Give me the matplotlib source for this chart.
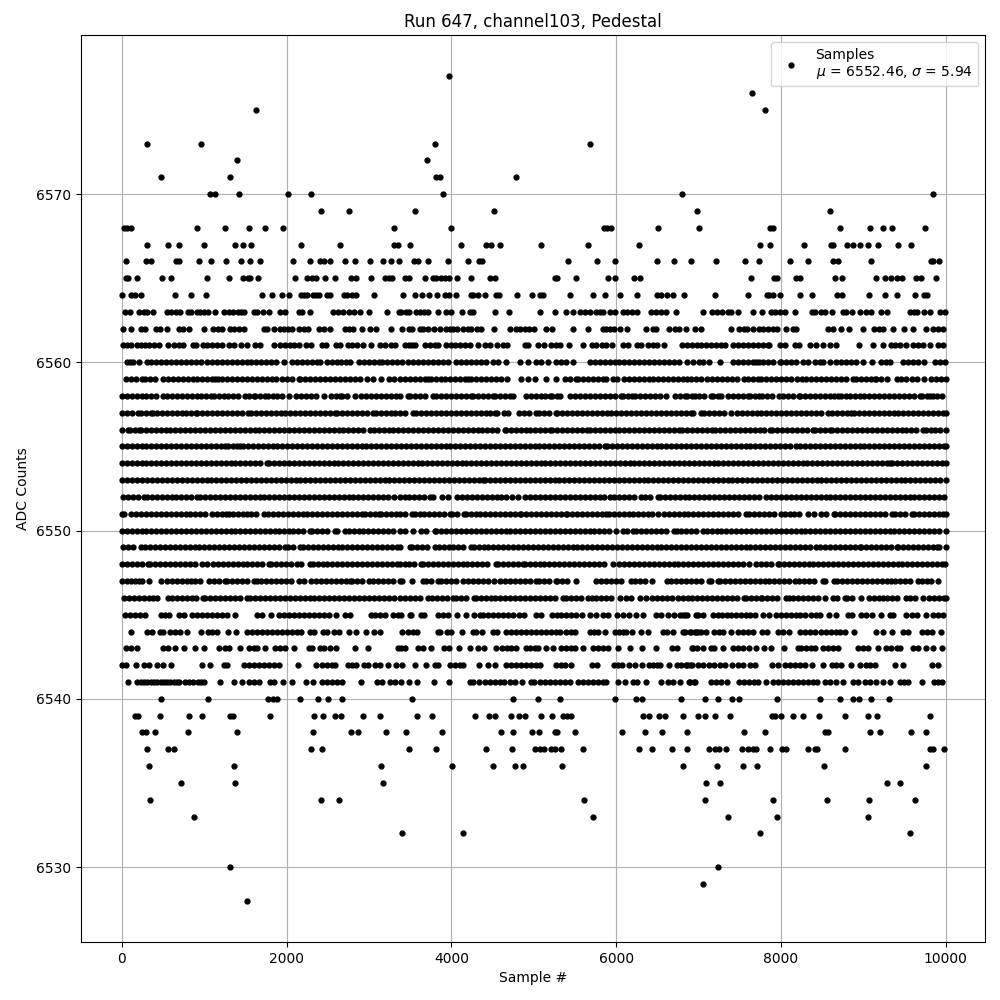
import matplotlib
matplotlib.use("Agg")
import matplotlib.pyplot as plt

s6577 = [3972]
s6576 = [7647]
s6575 = [1624, 7805]
s6573 = [312, 956, 3802, 5685]
s6572 = [1393, 3704]
s6571 = [482, 1308, 3814, 3862, 4786]
s6570 = [1065, 1130, 1417, 2013, 2292, 3899, 6803, 9850]
s6569 = [2414, 2754, 3559, 4518, 6985, 8596]
s6568 = [28, 69, 117, 919, 1247, 1539, 1733, 1952, 3300, 3996, 5855, 5891, 5940, 6511, 7001, 7866, 7903, 8718, 9083, 9241, 9351, 9753]
s6567 = [312, 555, 689, 992, 1369, 1466, 1563, 2171, 2645, 3309, 3349, 3498, 4117, 4421, 4482, 4591, 5089, 5660, 6280, 7744, 7866, 8280, 8608, 8630, 8803, 8876, 8961, 9059, 9180, 9424, 9582]
s6566 = [57, 288, 352, 664, 700, 932, 1077, 1260, 1442, 1551, 1673, 2074, 2280, 2410, 2458, 2523, 2705, 2827, 3009, 3167, 3264, 3361, 3546, 3595, 3717, 3960, 4202, 4336, 4373, 5418, 5770, 5989, 6499, 6705, 6912, 7209, 7562, 7732, 8110, 8329, 8633, 8694, 9095, 9826, 9850, 9923]
s6565 = [57, 77, 190, 494, 603, 1029, 1296, 1466, 1527, 1559, 1648, 2098, 2244, 2304, 2357, 2462, 2584, 2778, 2843, 3021, 3200, 3240, 3280, 3437, 3486, 3680, 3777, 3818, 3874, 3923, 3972, 4069, 4239, 4466, 4535, 5260, 5284, 5515, 5904, 5989, 6220, 6296, 7635, 7915, 7951, 8183, 8231, 8657, 8742, 9156, 9266, 9339, 9412, 9473, 9643, 9696, 9886]
s6564 = [8, 117, 166, 239, 640, 846, 1017, 1697, 1818, 1940, 2025, 2171, 2207, 2248, 2317, 2353, 2389, 2487, 2523, 2693, 2730, 2790, 2843, 3058, 3413, 3559, 3644, 3729, 3826, 3923, 3972, 4061, 4239, 4263, 4324, 4409, 4547, 4580, 4798, 4980, 5077, 5114, 5442, 5721, 5867, 6049, 6256, 6495, 6548, 6612, 6693, 6827, 7197, 7598, 7830, 7862, 7903, 7988, 8231, 8377, 8682, 8742, 9071, 9266, 9412, 9631, 9740, 9777]
s6563 = [44, 101, 215, 275, 304, 385, 543, 603, 664, 709, 798, 838, 907, 952, 992, 1041, 1126, 1235, 1296, 1345, 1405, 1446, 1478, 1600, 1640, 1709, 1782, 1916, 1976, 2147, 2187, 2280, 2560, 2620, 2681, 2754, 2815, 2888, 3000, 3220, 3370, 3393, 3445, 3486, 3567, 3615, 3664, 3717, 3838, 3939, 4000, 4130, 4231, 4263, 4535, 4701, 5077, 5260, 5393, 5478, 5563, 5620, 5681, 5762, 5802, 5843, 5928, 5985, 6085, 6134, 6195, 6256, 6426, 6479, 6544, 6609, 6727, 7051, 7160, 7221, 7282, 7355, 7395, 7477, 7659, 7769, 7878, 7923, 7984, 8045, 8170, 8377, 8410, 8487, 8531, 8621, 8755, 8795, 8864, 8961, 9030, 9099, 9217, 9290, 9570, 9619, 9655, 9740, 9809, 9935, 9992]
s6562 = [12, 117, 239, 283, 421, 466, 543, 700, 749, 822, 1004, 1102, 1162, 1215, 1308, 1357, 1417, 1478, 1721, 1762, 1843, 1916, 1964, 2013, 2061, 2147, 2207, 2256, 2390, 2450, 2531, 2714, 2754, 2802, 2920, 3009, 3082, 3264, 3401, 3486, 3526, 3615, 3656, 3717, 3790, 3862, 3931, 3980, 4020, 4069, 4142, 4202, 4243, 4312, 4356, 4518, 4713, 4786, 4838, 4891, 4944, 5000, 5150, 5223, 5478, 5660, 5843, 5883, 5924, 5972, 6049, 6134, 6365, 6446, 6487, 6641, 6714, 6762, 6851, 6957, 7030, 7391, 7497, 7558, 7590, 7659, 7740, 7781, 7842, 7903, 7951, 8057, 8146, 8187, 8572, 8633, 8734, 8827, 8998, 9128, 9189, 9241, 9363, 9493, 9607, 9765, 9850, 9911, 9972]
s6561 = [20, 61, 109, 190, 239, 283, 328, 397, 450, 567, 628, 689, 749, 859, 903, 980, 1033, 1094, 1154, 1215, 1296, 1357, 1442, 1519, 1612, 1681, 1843, 1924, 1984, 2037, 2094, 2155, 2232, 2292, 2426, 2483, 2596, 2653, 2742, 2798, 2855, 2924, 3021, 3131, 3191, 3264, 3321, 3441, 3482, 3522, 3563, 3676, 3737, 3798, 3838, 3939, 4000, 4040, 4101, 4162, 4223, 4324, 4405, 4466, 4555, 4628, 4676, 4891, 4931, 5053, 5122, 5211, 5276, 5316, 5430, 5600, 5713, 5762, 5823, 5883, 5956, 6085, 6146, 6256, 6308, 6389, 6450, 6499, 6584, 6795, 6855, 6916, 6977, 7030, 7091, 7152, 7213, 7270, 7319, 7416, 7477, 7537, 7598, 7659, 7720, 7781, 7842, 7862, 7984, 8045, 8166, 8219, 8357, 8422, 8511, 8600, 8674, 8949, 9120, 9241, 9331, 9384, 9444, 9525, 9606, 9667, 9728, 9809, 9911, 9972]
s6560 = [61, 105, 142, 211, 304, 360, 420, 480, 540, 600, 660, 720, 780, 840, 900, 960, 1033, 1094, 1154, 1214, 1274, 1334, 1394, 1454, 1514, 1574, 1634, 1694, 1754, 1814, 1874, 1964, 2066, 2126, 2186, 2246, 2306, 2366, 2410, 2491, 2552, 2612, 2661, 2720, 2774, 2876, 2936, 2996, 3056, 3118, 3159, 3219, 3279, 3339, 3405, 3474, 3534, 3594, 3654, 3714, 3774, 3834, 3899, 3960, 4061, 4121, 4181, 4241, 4301, 4361, 4421, 4506, 4567, 4668, 4830, 4931, 5033, 5093, 5174, 5276, 5336, 5396, 5478, 5681, 5741, 5801, 5861, 5921, 5981, 6041, 6101, 6161, 6221, 6281, 6341, 6401, 6461, 6521, 6581, 6641, 6701, 6761, 6856, 6929, 7010, 7051, 7124, 7262, 7416, 7476, 7536, 7598, 7659, 7700, 7740, 7781, 7841, 7901, 7984, 8004, 8064, 8124, 8184, 8268, 8329, 8410, 8470, 8511, 8592, 8674, 8734, 8794, 8854, 8917, 8998, 9107, 9221, 9281, 9322, 9485, 9545, 9605, 9667, 9740, 9870, 9930, 9992]
s6559 = [53, 113, 173, 243, 283, 343, 403, 498, 559, 619, 679, 739, 799, 859, 919, 979, 1039, 1099, 1134, 1162, 1222, 1282, 1342, 1402, 1462, 1522, 1582, 1642, 1702, 1762, 1822, 1871, 1944, 2004, 2064, 2147, 2167, 2227, 2287, 2347, 2407, 2467, 2527, 2587, 2647, 2707, 2767, 2827, 2887, 2977, 3046, 3147, 3240, 3300, 3380, 3440, 3500, 3560, 3620, 3680, 3717, 3749, 3809, 3869, 3929, 3989, 4049, 4109, 4169, 4202, 4243, 4303, 4363, 4423, 4483, 4543, 4603, 4676, 4842, 4931, 5012, 5154, 5276, 5385, 5445, 5519, 5539, 5599, 5659, 5719, 5779, 5843, 5883, 5964, 6013, 6094, 6154, 6214, 6274, 6334, 6394, 6454, 6514, 6574, 6634, 6694, 6754, 6815, 6855, 6915, 6975, 7035, 7103, 7160, 7225, 7285, 7345, 7405, 7465, 7558, 7598, 7659, 7720, 7760, 7820, 7880, 7940, 8000, 8065, 8126, 8195, 8256, 8308, 8368, 8428, 8488, 8548, 8608, 8668, 8728, 8788, 8876, 8916, 8976, 9036, 9096, 9140, 9160, 9220, 9290, 9404, 9464, 9524, 9595, 9647, 9740, 9818, 9878, 9938, 10000]
s6558 = [0, 60, 120, 180, 240, 300, 360, 420, 506, 547, 607, 667, 727, 787, 847, 907, 967, 1027, 1087, 1122, 1175, 1235, 1295, 1355, 1415, 1498, 1539, 1600, 1620, 1680, 1741, 1770, 1830, 1890, 1950, 2029, 2114, 2174, 2234, 2294, 2354, 2458, 2539, 2600, 2645, 2673, 2733, 2835, 2908, 2968, 3028, 3088, 3148, 3208, 3268, 3328, 3380, 3474, 3502, 3562, 3622, 3682, 3777, 3818, 3878, 3938, 3998, 4058, 4118, 4178, 4243, 4263, 4323, 4383, 4443, 4506, 4535, 4595, 4655, 4709, 4749, 4903, 4963, 5023, 5083, 5143, 5195, 5223, 5283, 5324, 5446, 5506, 5566, 5626, 5686, 5746, 5806, 5866, 5926, 5986, 6065, 6085, 6145, 6199, 6235, 6295, 6355, 6415, 6475, 6535, 6604, 6713, 6773, 6835, 6863, 6923, 6957, 7010, 7070, 7152, 7173, 7233, 7274, 7355, 7415, 7475, 7535, 7598, 7631, 7691, 7740, 7769, 7829, 7889, 7975, 8024, 8084, 8144, 8215, 8235, 8295, 8355, 8415, 8470, 8531, 8591, 8651, 8694, 8734, 8787, 8835, 8895, 8955, 9015, 9075, 9135, 9195, 9255, 9315, 9375, 9435, 9495, 9555, 9615, 9688, 9708, 9768, 9809, 9850, 9900, 9951]
s6557 = [0, 60, 120, 194, 231, 291, 351, 385, 425, 485, 545, 605, 665, 725, 785, 845, 903, 919, 979, 1039, 1099, 1159, 1219, 1279, 1339, 1399, 1459, 1531, 1567, 1627, 1687, 1747, 1807, 1867, 1927, 1987, 2047, 2107, 2167, 2227, 2287, 2347, 2407, 2467, 2527, 2592, 2612, 2672, 2732, 2792, 2852, 2912, 2972, 3050, 3082, 3142, 3202, 3262, 3322, 3380, 3440, 3534, 3575, 3635, 3695, 3755, 3815, 3875, 3935, 3995, 4055, 4115, 4175, 4235, 4295, 4355, 4415, 4475, 4527, 4555, 4636, 4689, 4822, 4882, 4942, 5033, 5065, 5125, 5185, 5268, 5284, 5344, 5404, 5464, 5524, 5584, 5644, 5704, 5764, 5824, 5884, 5944, 6004, 6064, 6124, 6184, 6244, 6304, 6364, 6424, 6484, 6544, 6604, 6664, 6724, 6784, 6844, 6909, 6937, 7030, 7071, 7131, 7191, 7251, 7311, 7395, 7465, 7525, 7585, 7645, 7705, 7765, 7825, 7885, 7945, 8005, 8065, 8125, 8185, 8245, 8305, 8365, 8425, 8485, 8572, 8625, 8685, 8745, 8805, 8856, 8888, 8948, 9008, 9068, 9128, 9188, 9248, 9308, 9368, 9428, 9488, 9548, 9608, 9668, 9728, 9788, 9848, 9908, 9968, 10000]
s6556 = [0, 81, 101, 161, 203, 231, 291, 351, 411, 471, 531, 591, 651, 711, 771, 831, 891, 951, 1011, 1071, 1131, 1191, 1251, 1311, 1371, 1431, 1491, 1551, 1611, 1671, 1731, 1791, 1851, 1911, 1971, 2031, 2091, 2151, 2211, 2271, 2331, 2391, 2451, 2511, 2571, 2631, 2691, 2751, 2811, 2871, 2931, 3017, 3058, 3118, 3178, 3238, 3298, 3358, 3418, 3478, 3538, 3598, 3658, 3718, 3778, 3838, 3898, 3958, 4018, 4078, 4138, 4198, 4258, 4318, 4378, 4438, 4498, 4558, 4648, 4668, 4721, 4781, 4841, 4901, 4961, 5021, 5081, 5141, 5195, 5227, 5287, 5347, 5407, 5467, 5527, 5587, 5648, 5681, 5741, 5801, 5861, 5921, 5981, 6041, 6101, 6161, 6221, 6281, 6341, 6401, 6461, 6521, 6581, 6641, 6701, 6766, 6802, 6862, 6922, 6982, 7042, 7102, 7164, 7201, 7261, 7321, 7381, 7441, 7501, 7561, 7621, 7681, 7741, 7801, 7870, 7895, 7955, 8015, 8075, 8135, 8195, 8255, 8315, 8389, 8418, 8478, 8538, 8600, 8625, 8685, 8745, 8805, 8865, 8925, 8985, 9045, 9105, 9165, 9225, 9285, 9345, 9405, 9465, 9525, 9585, 9645, 9720, 9757, 9817, 9877, 9937, 10000]
s6555 = [0, 60, 120, 180, 240, 300, 360, 420, 480, 540, 600, 660, 720, 780, 840, 900, 960, 1020, 1080, 1140, 1200, 1256, 1284, 1344, 1404, 1438, 1470, 1530, 1590, 1650, 1710, 1770, 1830, 1890, 1950, 2010, 2070, 2130, 2190, 2250, 2310, 2370, 2430, 2490, 2550, 2610, 2670, 2730, 2790, 2850, 2910, 2970, 3030, 3090, 3150, 3210, 3270, 3330, 3390, 3450, 3510, 3570, 3630, 3690, 3750, 3810, 3870, 3930, 3990, 4050, 4110, 4170, 4230, 4290, 4350, 4410, 4470, 4530, 4590, 4650, 4710, 4770, 4830, 4890, 4950, 5010, 5070, 5130, 5190, 5250, 5310, 5370, 5430, 5490, 5550, 5610, 5670, 5730, 5790, 5863, 5891, 5951, 6011, 6071, 6131, 6191, 6251, 6311, 6371, 6431, 6491, 6551, 6611, 6671, 6731, 6791, 6851, 6911, 6971, 7031, 7091, 7151, 7211, 7271, 7331, 7391, 7451, 7511, 7571, 7631, 7691, 7751, 7811, 7871, 7931, 7991, 8051, 8111, 8187, 8235, 8295, 8355, 8415, 8475, 8535, 8595, 8655, 8715, 8775, 8835, 8895, 8955, 9015, 9075, 9135, 9195, 9255, 9315, 9375, 9435, 9495, 9555, 9615, 9675, 9735, 9795, 9855, 9915, 9975, 10000]
s6554 = [0, 60, 120, 180, 240, 300, 360, 420, 480, 540, 600, 660, 720, 780, 840, 900, 960, 1020, 1080, 1140, 1200, 1260, 1320, 1380, 1440, 1500, 1560, 1620, 1680, 1762, 1790, 1850, 1910, 1970, 2030, 2090, 2150, 2210, 2270, 2330, 2390, 2450, 2510, 2570, 2630, 2690, 2750, 2810, 2870, 2930, 2990, 3050, 3110, 3170, 3230, 3290, 3350, 3410, 3470, 3530, 3590, 3650, 3710, 3770, 3830, 3890, 3950, 4010, 4070, 4130, 4182, 4243, 4303, 4363, 4423, 4483, 4543, 4603, 4663, 4723, 4783, 4843, 4903, 4963, 5023, 5083, 5143, 5203, 5263, 5323, 5383, 5443, 5503, 5563, 5623, 5683, 5743, 5803, 5863, 5923, 5983, 6043, 6103, 6163, 6223, 6283, 6343, 6403, 6463, 6523, 6583, 6643, 6703, 6763, 6823, 6883, 6943, 7003, 7063, 7123, 7183, 7243, 7303, 7363, 7423, 7483, 7543, 7603, 7663, 7723, 7783, 7843, 7903, 7963, 8023, 8083, 8143, 8203, 8263, 8323, 8383, 8443, 8503, 8563, 8623, 8683, 8743, 8803, 8863, 8923, 8983, 9043, 9103, 9163, 9223, 9283, 9322, 9355, 9415, 9475, 9535, 9595, 9655, 9715, 9775, 9835, 9895, 9955, 10000]
s6553 = [8, 69, 129, 189, 249, 309, 369, 429, 489, 549, 609, 669, 729, 789, 849, 909, 969, 1029, 1089, 1149, 1209, 1269, 1329, 1389, 1449, 1509, 1569, 1629, 1689, 1749, 1809, 1869, 1929, 1989, 2049, 2109, 2169, 2229, 2289, 2349, 2409, 2469, 2529, 2589, 2649, 2709, 2769, 2829, 2889, 2949, 3009, 3069, 3129, 3189, 3249, 3309, 3370, 3430, 3490, 3550, 3610, 3670, 3730, 3790, 3850, 3910, 3970, 4030, 4090, 4150, 4210, 4270, 4330, 4385, 4413, 4473, 4533, 4593, 4653, 4713, 4773, 4833, 4893, 4953, 5013, 5073, 5133, 5193, 5253, 5313, 5373, 5433, 5493, 5553, 5613, 5673, 5733, 5793, 5853, 5913, 5973, 6033, 6093, 6153, 6213, 6273, 6333, 6393, 6453, 6513, 6573, 6633, 6693, 6753, 6813, 6873, 6933, 6993, 7053, 7113, 7173, 7233, 7293, 7353, 7413, 7473, 7533, 7593, 7653, 7713, 7773, 7833, 7893, 7953, 8013, 8073, 8133, 8193, 8253, 8313, 8373, 8433, 8493, 8553, 8613, 8673, 8733, 8793, 8853, 8913, 8973, 9033, 9093, 9153, 9213, 9273, 9333, 9393, 9453, 9513, 9573, 9633, 9693, 9753, 9813, 9873, 9933, 10000]
s6552 = [12, 72, 132, 192, 275, 304, 364, 424, 484, 544, 604, 664, 724, 784, 844, 911, 952, 1012, 1072, 1132, 1192, 1252, 1312, 1372, 1432, 1492, 1552, 1612, 1672, 1732, 1792, 1852, 1912, 1972, 2032, 2092, 2152, 2212, 2272, 2332, 2392, 2452, 2512, 2572, 2632, 2692, 2752, 2812, 2872, 2932, 2992, 3052, 3112, 3172, 3232, 3309, 3372, 3432, 3492, 3552, 3612, 3672, 3745, 3777, 3891, 3960, 4069, 4129, 4189, 4249, 4309, 4369, 4429, 4489, 4549, 4609, 4669, 4741, 4814, 4899, 4959, 5019, 5079, 5139, 5199, 5259, 5319, 5379, 5439, 5499, 5559, 5619, 5679, 5739, 5799, 5859, 5932, 5972, 6032, 6092, 6152, 6212, 6308, 6349, 6409, 6503, 6531, 6591, 6651, 6711, 6771, 6831, 6891, 6951, 7011, 7071, 7131, 7191, 7251, 7311, 7371, 7431, 7491, 7551, 7611, 7671, 7731, 7822, 7882, 7942, 8002, 8062, 8122, 8182, 8242, 8302, 8362, 8422, 8482, 8542, 8602, 8662, 8722, 8782, 8842, 8902, 8962, 9022, 9082, 9142, 9202, 9262, 9322, 9382, 9442, 9502, 9562, 9622, 9682, 9742, 9802, 9862, 9922, 9984]
s6551 = [0, 28, 117, 174, 234, 294, 354, 414, 474, 534, 594, 654, 714, 774, 834, 894, 954, 1012, 1094, 1154, 1214, 1268, 1296, 1356, 1416, 1476, 1519, 1571, 1631, 1721, 1774, 1834, 1894, 1954, 2014, 2074, 2134, 2194, 2254, 2314, 2374, 2434, 2494, 2554, 2614, 2674, 2734, 2794, 2854, 2916, 2957, 3017, 3077, 3118, 3151, 3211, 3271, 3331, 3372, 3432, 3526, 3554, 3614, 3674, 3734, 3794, 3854, 3914, 3988, 4012, 4072, 4150, 4174, 4234, 4294, 4354, 4414, 4474, 4534, 4594, 4654, 4714, 4774, 4830, 4850, 4910, 4970, 5030, 5090, 5150, 5210, 5270, 5330, 5397, 5409, 5469, 5529, 5589, 5649, 5709, 5769, 5829, 5875, 5911, 5971, 6031, 6091, 6151, 6211, 6271, 6331, 6391, 6442, 6511, 6579, 6639, 6699, 6759, 6819, 6879, 6939, 6999, 7059, 7119, 7179, 7239, 7299, 7359, 7419, 7479, 7578, 7619, 7679, 7739, 7799, 7859, 7919, 7996, 8045, 8105, 8165, 8225, 8329, 8398, 8491, 8551, 8641, 8661, 8721, 8781, 8841, 8901, 8961, 9021, 9081, 9141, 9201, 9261, 9355, 9383, 9443, 9503, 9586, 9614, 9674, 9734, 9794, 9854, 9914, 9974, 10000]
s6550 = [0, 60, 120, 180, 240, 300, 360, 420, 480, 540, 600, 660, 720, 780, 840, 900, 960, 1020, 1080, 1140, 1200, 1260, 1320, 1380, 1440, 1500, 1560, 1620, 1680, 1740, 1800, 1860, 1903, 1964, 2024, 2084, 2144, 2204, 2288, 2309, 2369, 2429, 2489, 2584, 2612, 2714, 2754, 2814, 2874, 2934, 2994, 3054, 3114, 3174, 3234, 3294, 3372, 3432, 3534, 3635, 3695, 3798, 3818, 3878, 3938, 3998, 4058, 4118, 4178, 4238, 4298, 4358, 4418, 4478, 4538, 4598, 4658, 4718, 4778, 4838, 4898, 4958, 5018, 5078, 5138, 5198, 5258, 5318, 5378, 5438, 5498, 5558, 5618, 5678, 5738, 5798, 5858, 5918, 5997, 6078, 6138, 6207, 6247, 6307, 6367, 6427, 6487, 6547, 6607, 6705, 6734, 6794, 6854, 6914, 6974, 7059, 7099, 7159, 7219, 7279, 7339, 7399, 7459, 7519, 7579, 7639, 7699, 7759, 7819, 7879, 7939, 7999, 8059, 8119, 8179, 8239, 8299, 8359, 8419, 8479, 8539, 8599, 8659, 8719, 8779, 8839, 8899, 8959, 9019, 9079, 9139, 9199, 9259, 9319, 9379, 9439, 9499, 9559, 9619, 9679, 9739, 9799, 9859, 9919, 10000]
s6549 = [12, 72, 132, 231, 283, 343, 403, 463, 523, 583, 643, 703, 763, 823, 883, 943, 1003, 1063, 1123, 1183, 1243, 1303, 1363, 1423, 1483, 1543, 1603, 1663, 1723, 1783, 1843, 1903, 1984, 2013, 2073, 2159, 2199, 2259, 2319, 2379, 2439, 2499, 2559, 2619, 2679, 2739, 2799, 2859, 2919, 2979, 3039, 3099, 3159, 3219, 3279, 3339, 3372, 3502, 3526, 3586, 3646, 3706, 3798, 3846, 3906, 3966, 4026, 4086, 4146, 4243, 4271, 4331, 4391, 4451, 4511, 4571, 4631, 4691, 4751, 4811, 4871, 4931, 4991, 5051, 5111, 5171, 5231, 5291, 5351, 5411, 5471, 5531, 5591, 5651, 5711, 5771, 5831, 5891, 5951, 6011, 6071, 6131, 6191, 6251, 6311, 6371, 6431, 6491, 6551, 6611, 6671, 6731, 6791, 6851, 6911, 6971, 7031, 7091, 7151, 7211, 7271, 7331, 7391, 7451, 7511, 7571, 7631, 7691, 7751, 7811, 7871, 7931, 7991, 8051, 8111, 8171, 8231, 8291, 8351, 8430, 8479, 8539, 8599, 8659, 8719, 8779, 8839, 8899, 8957, 8977, 9037, 9097, 9157, 9217, 9277, 9337, 9404, 9424, 9484, 9544, 9604, 9664, 9724, 9784, 9844, 9890, 9923, 10000]
s6548 = [0, 60, 120, 180, 240, 324, 344, 404, 464, 524, 584, 644, 704, 764, 824, 884, 972, 1033, 1106, 1166, 1226, 1286, 1346, 1406, 1466, 1526, 1586, 1646, 1706, 1786, 1810, 1870, 1930, 1990, 2050, 2126, 2179, 2288, 2317, 2377, 2437, 2497, 2557, 2617, 2677, 2737, 2797, 2857, 2917, 2977, 3037, 3097, 3157, 3217, 3277, 3337, 3372, 3432, 3492, 3552, 3636, 3656, 3716, 3776, 3836, 3896, 3956, 4016, 4076, 4136, 4196, 4256, 4316, 4376, 4436, 4539, 4567, 4627, 4687, 4747, 4807, 4871, 4891, 4951, 5011, 5071, 5131, 5191, 5251, 5311, 5371, 5431, 5491, 5551, 5611, 5671, 5731, 5791, 5851, 5964, 6037, 6097, 6157, 6217, 6277, 6337, 6397, 6457, 6517, 6577, 6637, 6697, 6757, 6817, 6877, 6937, 6997, 7057, 7117, 7177, 7237, 7297, 7357, 7417, 7477, 7537, 7619, 7700, 7760, 7820, 7880, 7964, 7976, 8036, 8096, 8156, 8216, 8276, 8336, 8396, 8456, 8516, 8576, 8636, 8696, 8756, 8816, 8876, 8936, 8996, 9056, 9116, 9176, 9236, 9296, 9356, 9416, 9476, 9536, 9596, 9656, 9716, 9776, 9836, 9896, 9956, 9992]
s6547 = [0, 60, 115, 160, 215, 243, 332, 478, 547, 607, 676, 729, 789, 838, 891, 951, 1053, 1122, 1182, 1247, 1276, 1336, 1396, 1456, 1516, 1600, 1640, 1689, 1749, 1809, 1869, 1929, 1989, 2049, 2147, 2207, 2296, 2356, 2416, 2476, 2536, 2596, 2656, 2716, 2774, 2794, 2854, 2914, 2997, 3050, 3110, 3170, 3230, 3290, 3380, 3405, 3526, 3656, 3696, 3756, 3838, 3879, 3939, 3999, 4059, 4142, 4202, 4262, 4322, 4382, 4442, 4518, 4595, 4655, 4715, 4775, 4835, 4895, 4955, 5033, 5065, 5125, 5185, 5268, 5284, 5344, 5404, 5519, 5762, 5822, 5882, 5942, 6002, 6062, 6175, 6231, 6291, 6351, 6442, 6612, 6672, 6732, 6792, 6852, 6912, 6972, 7032, 7124, 7152, 7233, 7262, 7322, 7382, 7442, 7502, 7562, 7622, 7682, 7742, 7802, 7862, 7922, 7982, 8042, 8097, 8166, 8226, 8286, 8346, 8406, 8511, 8539, 8645, 8682, 8742, 8802, 8862, 8922, 8982, 9042, 9102, 9162, 9222, 9290, 9331, 9391, 9451, 9511, 9571, 9659, 9708, 9768, 9828, 9911]
s6546 = [28, 93, 154, 214, 274, 334, 385, 433, 555, 608, 668, 728, 788, 851, 903, 984, 1012, 1072, 1132, 1192, 1252, 1312, 1372, 1432, 1519, 1559, 1619, 1679, 1739, 1799, 1859, 1919, 1979, 2039, 2099, 2159, 2219, 2279, 2339, 2399, 2459, 2519, 2579, 2639, 2699, 2759, 2819, 2879, 2939, 2999, 3059, 3119, 3179, 3239, 3299, 3380, 3440, 3500, 3560, 3620, 3717, 3769, 3829, 3889, 3949, 4020, 4061, 4121, 4181, 4271, 4296, 4356, 4416, 4476, 4536, 4596, 4656, 4716, 4776, 4836, 4896, 4956, 5016, 5076, 5136, 5196, 5256, 5357, 5397, 5457, 5517, 5577, 5660, 5709, 5762, 5822, 5882, 5942, 6045, 6118, 6178, 6288, 6361, 6442, 6502, 6562, 6622, 6682, 6754, 6807, 6867, 6927, 6987, 7047, 7107, 7167, 7227, 7287, 7347, 7407, 7467, 7550, 7578, 7638, 7698, 7753, 7769, 7829, 7889, 7949, 8057, 8093, 8153, 8213, 8273, 8333, 8393, 8453, 8531, 8633, 8682, 8783, 8807, 8867, 8969, 9071, 9131, 9191, 9241, 9290, 9350, 9410, 9517, 9566, 9626, 9728, 9801, 9861, 9921, 9981, 10000]
s6545 = [40, 101, 162, 223, 283, 474, 527, 579, 700, 757, 851, 911, 972, 1033, 1094, 1154, 1215, 1276, 1369, 1640, 1701, 1810, 1903, 1964, 2025, 2086, 2155, 2215, 2268, 2329, 2390, 2450, 2511, 2604, 2714, 2774, 3025, 3078, 3139, 3200, 3293, 3353, 3393, 3494, 3514, 3636, 3664, 3838, 3899, 3964, 4069, 4178, 4275, 4344, 4385, 4446, 4506, 4567, 4628, 4689, 4749, 4822, 4879, 5033, 5093, 5227, 5284, 5337, 5397, 5458, 5519, 5588, 5681, 5754, 5843, 5903, 6013, 6085, 6159, 6244, 6329, 6483, 6551, 6632, 6701, 6774, 6835, 6989, 6807, 6856, 6970, 7059, 7173, 7233, 7286, 7343, 7395, 7456, 7517, 7578, 7627, 7692, 7781, 7854, 7943, 8004, 8065, 8126, 8187, 8235, 8288, 8369, 8422, 8479, 8584, 8674, 8815, 8868, 8977, 9030, 9107, 9221, 9322, 9363, 9525, 9586, 9647, 9757, 9850, 9911, 9972]
s6544 = [117, 304, 364, 466, 506, 587, 648, 709, 790, 960, 1041, 1094, 1154, 1284, 1381, 1519, 1580, 1640, 1701, 1762, 1823, 1883, 1944, 2005, 2066, 2126, 2179, 2280, 2329, 2442, 2491, 2572, 2633, 2754, 2839, 2960, 3066, 3131, 3405, 3474, 3535, 3583, 3838, 3866, 3947, 4000, 4130, 4263, 4296, 4373, 4506, 4555, 4660, 4729, 4790, 4850, 4911, 4972, 5033, 5093, 5154, 5215, 5276, 5324, 5397, 5458, 5507, 5681, 5733, 5782, 5863, 5985, 6037, 6085, 6126, 6195, 6308, 6389, 6564, 6612, 6693, 6835, 6896, 6957, 6997, 6815, 6909, 6970, 7030, 7091, 7193, 7254, 7294, 7391, 7477, 7537, 7598, 7659, 7773, 7830, 7963, 8024, 8097, 8235, 8288, 8349, 8410, 8491, 8552, 8613, 8674, 8722, 8775, 8888, 9156, 9241, 9347, 9477, 9546, 9708, 9769, 9830, 9939]
s6543 = [53, 109, 182, 506, 567, 652, 761, 883, 992, 1175, 1247, 1296, 1438, 1539, 1600, 1640, 1741, 1855, 1924, 1984, 2086, 2268, 2309, 2410, 2458, 2531, 2604, 2835, 2985, 3349, 3393, 3433, 3595, 3656, 3753, 3911, 3972, 4093, 4227, 4324, 4397, 4547, 4620, 4676, 4729, 4790, 4911, 4960, 5012, 5053, 5150, 5235, 5336, 5397, 5458, 5498, 5600, 5721, 5782, 5843, 5903, 6025, 6166, 6313, 6487, 6673, 6734, 6928, 6977, 6921, 7051, 7152, 7193, 7294, 7416, 7477, 7537, 7619, 7700, 7793, 7882, 8036, 8207, 8247, 8308, 8369, 8418, 8511, 8572, 8633, 8694, 8937, 8998, 9059, 9176, 9282, 9343, 9404, 9452, 9606, 9667, 9765, 9850, 9960]
s6542 = [0, 53, 170, 275, 328, 433, 506, 603, 968, 1065, 1243, 1276, 1478, 1539, 1600, 1660, 1721, 1782, 1843, 1903, 2134, 2361, 2430, 2491, 2552, 2592, 2742, 2794, 2847, 2936, 2985, 3078, 3139, 3228, 3325, 3405, 3563, 3696, 3798, 3838, 3980, 4040, 4101, 4142, 4336, 4446, 4530, 4668, 4729, 4790, 4850, 4903, 4972, 5033, 5081, 5272, 5337, 5385, 5454, 5709, 5770, 5972, 6025, 6074, 6159, 6227, 6313, 6402, 6450, 6499, 6539, 6645, 6734, 6794, 6855, 6916, 6848, 6896, 6990, 7051, 7132, 7185, 7262, 7323, 7404, 7477, 7537, 7631, 7692, 7890, 7963, 8045, 8105, 8166, 8227, 8292, 8381, 8515, 8625, 8674, 8734, 8856, 8957, 9030, 9087, 9140, 9388, 9485, 9829, 9911]
s6541 = [81, 190, 230, 270, 310, 350, 390, 430, 470, 510, 550, 590, 630, 670, 700, 770, 820, 870, 920, 960, 992, 1187, 1357, 1454, 1539, 1600, 1669, 1794, 1843, 1952, 2066, 2232, 2317, 2430, 2491, 2552, 2612, 2673, 2900, 3094, 3159, 3252, 3321, 3393, 3482, 3583, 3789, 3972, 4223, 4263, 4336, 4405, 4466, 4526, 4587, 4636, 4709, 4770, 4859, 4972, 5004, 5073, 5134, 5195, 5256, 5316, 5377, 5438, 5539, 5600, 5660, 5721, 5782, 5843, 5883, 6025, 6106, 6207, 6256, 6369, 6551, 6632, 6693, 6774, 6896, 6957, 6888, 6949, 7152, 7213, 7274, 7343, 7489, 7558, 7619, 7680, 7720, 7817, 7903, 7963, 8024, 8085, 8146, 8207, 8268, 8329, 8389, 8438, 8531, 8592, 8674, 8755, 8876, 8937, 9018, 9079, 9160, 9241, 9322, 9444, 9493, 9546, 9716, 9858, 9911, 9951]
s6540 = [470, 1041, 1770, 1831, 1879, 2159, 2377, 2499, 2669, 3522, 4749, 5053, 5320, 5989, 6244, 6317, 6794, 7075, 7233, 7404, 7489, 7951, 8475, 8718, 8876, 8949, 9095, 9314]
s6539 = [166, 202, 458, 822, 968, 1308, 1345, 1794, 2329, 2438, 2584, 2657, 2924, 3131, 3583, 3765, 4288, 4458, 4526, 4721, 4822, 4895, 5089, 5223, 5357, 5405, 5454, 6329, 6402, 6523, 6596, 6807, 6989, 7083, 7197, 7379, 7890, 7923, 8000, 8146, 8268, 8462, 8779, 9059, 9168, 9813]
s6538 = [251, 292, 409, 798, 1393, 2317, 2778, 2863, 3204, 3449, 3887, 4603, 4749, 4980, 5065, 5260, 5284, 5503, 6074, 6353, 6560, 6855, 7550, 7805, 8536, 8572, 9083, 9205, 9582, 9765]
s6537 = [312, 555, 628, 2292, 2426, 3486, 3814, 4421, 4737, 5017, 5073, 5122, 5211, 5260, 5332, 5600, 6280, 6438, 6681, 6855, 7124, 7197, 7245, 7331, 7525, 7598, 7667, 7700, 7866, 8012, 8057, 8329, 8410, 8438, 8779, 9813, 9850, 9984]
s6536 = [336, 1357, 3143, 4008, 4506, 4773, 4871, 5345, 6815, 7221, 7537, 7708, 8523, 9765]
s6535 = [713, 1369, 3167, 7087, 7258, 9290, 9448]
s6534 = [348, 2414, 2633, 5612, 7075, 7903, 8560, 9071, 9631]
s6533 = [871, 5721, 7355, 7951, 9059]
s6532 = [3396, 4142, 7744, 9570]
s6530 = [1308, 7233]
s6529 = [7051]
s6528 = [1515]

levels = [6577, 6576, 6575, 6573, 6572, 6571, 6570, 6569, 6568, 6567, 6566, 6565, 6564, 6563, 6562, 6561, 6560, 6559, 6558, 6557, 6556, 6555, 6554, 6553, 6552, 6551, 6550, 6549, 6548, 6547, 6546, 6545, 6544, 6543, 6542, 6541, 6540, 6539, 6538, 6537, 6536, 6535, 6534, 6533, 6532, 6530, 6529, 6528]
samples = [s6577, s6576, s6575, s6573, s6572, s6571, s6570, s6569, s6568, s6567, s6566, s6565, s6564, s6563, s6562, s6561, s6560, s6559, s6558, s6557, s6556, s6555, s6554, s6553, s6552, s6551, s6550, s6549, s6548, s6547, s6546, s6545, s6544, s6543, s6542, s6541, s6540, s6539, s6538, s6537, s6536, s6535, s6534, s6533, s6532, s6530, s6529, s6528]

xs, ys = [], []
for lv, row in zip(levels, samples):
    xs.extend(row)
    ys.extend([lv] * len(row))

fig, ax = plt.subplots(figsize=(10, 10), dpi=100)
ax.plot(xs, ys, "k.", ms=7, label="Samples\n$\\mu$ = 6552.46, $\\sigma$ = 5.94")
ax.set_title("Run 647, channel103, Pedestal")
ax.set_xlabel("Sample #")
ax.set_ylabel("ADC Counts")
ax.grid(True)
ax.set_xlim(-495, 10478)
ax.legend(loc="upper right")
fig.subplots_adjust(left=0.081, right=0.985, bottom=0.058, top=0.965)
fig.savefig("out.png", dpi=100)
